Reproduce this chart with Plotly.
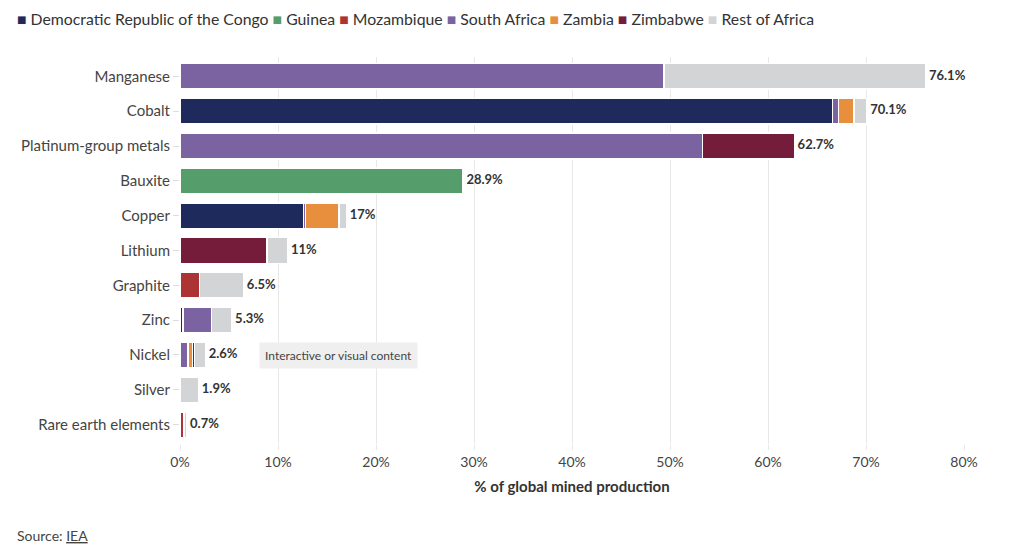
import plotly.graph_objects as go

minerals = ["Manganese", "Cobalt", "Platinum-group metals", "Bauxite", "Copper", "Lithium",
            "Graphite", "Zinc", "Nickel", "Silver", "Rare earth elements"]

drc          = [0,    66.6, 0,    0,    12.6, 0,   0,   0.3, 0,   0,   0]
guinea       = [0,    0,    0,    28.9, 0,    0,   0,   0,   0,   0,   0]
mozambique   = [0,    0,    0,    0,    0,    0,   2.0, 0,   0,   0,   0.4]
south_africa = [49.4, 0.6,  53.3, 0,    0.2,  0,   0,   2.9, 0.8, 0,   0]
zambia       = [0,    1.6,  0,    0,    3.4,  0,   0,   0,   0.5, 0,   0]
zimbabwe     = [0,    0,    9.4,  0,    0,    8.9, 0,   0,   0.2, 0,   0]
rest         = [26.7, 1.3,  0,    0,    0.8,  2.1, 4.5, 2.1, 1.1, 1.9, 0.3]

totals = [76.1, 70.1, 62.7, 28.9, 17, 11, 6.5, 5.3, 2.6, 1.9, 0.7]
total_labels = ["76.1%", "70.1%", "62.7%", "28.9%", "17%", "11%", "6.5%", "5.3%", "2.6%", "1.9%", "0.7%"]

x_ticks = [0, 10, 20, 30, 40, 50, 60, 70, 80]

series = [
    ("Democratic Republic of the Congo", drc, "#1d2a5b"),
    ("Guinea", guinea, "#559e6b"),
    ("Mozambique", mozambique, "#ac3434"),
    ("South Africa", south_africa, "#7a63a0"),
    ("Zambia", zambia, "#e88f3e"),
    ("Zimbabwe", zimbabwe, "#751c3b"),
    ("Rest of Africa", rest, "#d3d4d6"),
]

FONT = "Lato"
fig = go.Figure()
for name, vals, col in series:
    fig.add_trace(go.Bar(
        name=name, y=minerals, x=vals, orientation="h", showlegend=False,
        marker=dict(color=col, line=dict(color="white", width=1.5)),
        hovertemplate="%{y}: %{x}%<extra>" + name + "</extra>",
    ))

fig.add_trace(go.Scatter(
    x=totals, y=minerals, mode="text", text=[" " + t for t in total_labels],
    textposition="middle right",
    textfont=dict(family=FONT, size=13, color="#333333", weight="bold"),
    showlegend=False, hoverinfo="skip", cliponaxis=False,
))

legend_text = " ".join(
    f"<span style='color:{col}'>■</span> {name}" for name, _, col in series
)

PH = 387  # plot height in px
fig.update_layout(
    barmode="stack",
    bargap=0.26,
    width=1016, height=544,
    margin=dict(l=172, r=60, t=49, b=108, autoexpand=False),
    plot_bgcolor="white", paper_bgcolor="white",
    font=dict(family=FONT, size=14, color="#444444"),
    showlegend=False,
    xaxis=dict(range=[0, 80], tickvals=x_ticks, ticktext=[f"{t}%" for t in x_ticks],
               showgrid=True, gridcolor="#e8e8e8", gridwidth=1, zeroline=False,
               ticks="outside", ticklen=5, tickcolor="#e8e8e8", automargin=False,
               title=dict(text="<b>% of global mined production</b>", standoff=12,
                          font=dict(family=FONT, size=15, color="#333333")),
               tickfont=dict(family=FONT, size=14, color="#444444")),
    yaxis=dict(autorange="reversed", showgrid=False, ticks="outside", ticklen=6,
               tickcolor="#dddddd", automargin=False,
               tickfont=dict(family=FONT, size=15, color="#444444")),
    annotations=[
        dict(text=legend_text, xref="paper", yref="paper", x=-165/784, y=(444-18)/PH,
             xanchor="left", yanchor="middle", showarrow=False,
             font=dict(family=FONT, size=15.8, color="#333333")),
        dict(text="Source: <u>IEA</u>", xref="paper", yref="paper", x=-165/784, y=-(535-444)/PH,
             xanchor="left", yanchor="middle", showarrow=False,
             font=dict(family=FONT, size=14, color="#444444")),
        dict(text="Interactive or visual content", xref="paper", yref="paper",
             x=79/784, y=(444-355)/PH, xanchor="left", yanchor="middle",
             showarrow=False, bgcolor="#efefef", borderpad=5,
             font=dict(family=FONT, size=12, color="#444444")),
    ],
)

fig.write_html("out.html")
